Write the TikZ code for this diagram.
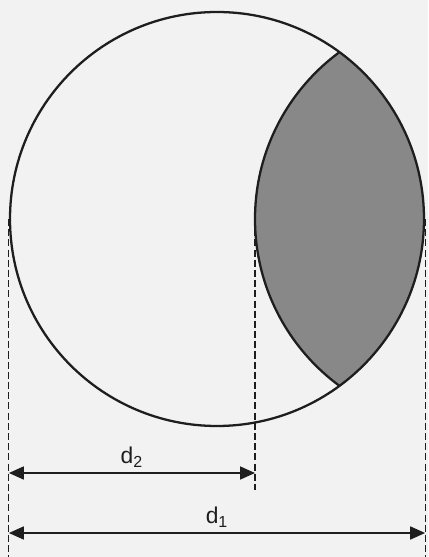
\documentclass[tikz,border=0pt]{standalone}
\usepackage{fontspec}
\setmainfont{Liberation Sans}
\usepackage{xcolor}
\usepackage{tikz}
\usetikzlibrary{positioning,arrows.meta,calc}
\definecolor{lensPaper}{HTML}{F2F2F2}
\definecolor{lensShade}{HTML}{888888}
\definecolor{lensInk}{HTML}{1E1E1E}

\begin{document}
\begin{tikzpicture}[
  x=1cm,
  y=1cm,
  outline/.style={circle, draw=lensInk, line width=1.3pt, inner sep=0pt},
  guide/.style={draw=lensInk, line width=0.6pt, dash pattern=on 4pt off 1.8pt},
  dim/.style={{Triangle[length=3mm,width=2.6mm]}-{Triangle[length=3mm,width=2.6mm]}, line width=1pt, draw=lensInk},
  dimlabel/.style={font=\fontsize{13}{15}\selectfont, text=lensInk, inner sep=2.5pt}
]
\fill[lensPaper] (0,0) rectangle (8.56,11.14);
\useasboundingbox (0,0) rectangle (8.56,11.14);

\coordinate (floor) at (0,0);
\coordinate (rowTwo) at (0,1.68);
\coordinate (rowOne) at (0,0.48);
\coordinate (mirror) at (9.24,6.76);
\coordinate (lensW) at (5.10,6.76);
\coordinate (stopMid) at (5.10,1.34);

\begin{scope}
  \clip (4.34,6.76) circle (4.14);
  \draw[fill=lensShade, draw=lensInk, line width=1.3pt] (mirror) circle (4.14);
\end{scope}
\node[outline, minimum size=8.28cm] (disk) at (4.34,6.76) {};

\draw[guide] (disk.west) -- (disk.west |- floor);
\draw[guide] (disk.east) -- (disk.east |- floor);
\draw[guide] (lensW) -- (stopMid);

\draw[dim] (disk.west |- rowTwo) -- (lensW |- rowTwo) node[midway, above, dimlabel] (dtwo) {d\textsubscript{2}};
\draw[dim] (disk.west |- rowOne) -- (disk.east |- rowOne) node[midway, above, dimlabel] (done) {d\textsubscript{1}};
\end{tikzpicture}
\end{document}
